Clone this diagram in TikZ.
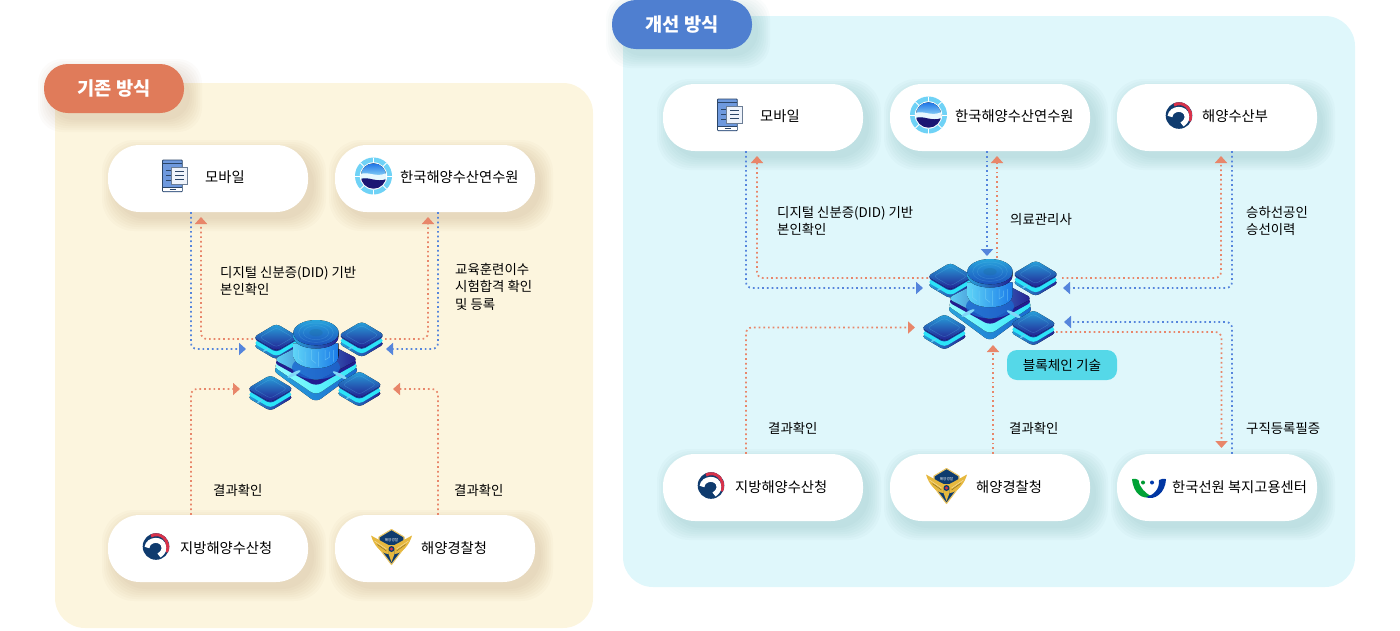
\documentclass[tikz,border=0pt]{standalone}
\usepackage{fontspec}
\setmainfont{Noto Sans CJK KR}
\usetikzlibrary{arrows.meta,calc}
\definecolor{panelL}{HTML}{FCF5DE}
\definecolor{panelR}{HTML}{DFF7FB}
\definecolor{tagL}{HTML}{E07B5A}
\definecolor{tagR}{HTML}{4F7FD0}
\definecolor{flowO}{HTML}{E8866A}
\definecolor{flowB}{HTML}{5585DC}
\definecolor{chipT}{HTML}{55D8E8}
\definecolor{navyA}{HTML}{221C90}
\definecolor{navyB}{HTML}{1B3A9A}
\definecolor{cyanA}{HTML}{2BE4F8}
\definecolor{blueA}{HTML}{28A4DC}
\definecolor{blueB}{HTML}{1A68D0}
\definecolor{glowL}{HTML}{5FD4F7}
\definecolor{glowM}{HTML}{12CDF9}
\definecolor{glowR}{HTML}{1A7AE8}
\definecolor{govN}{HTML}{0F3B6E}
\definecolor{govR}{HTML}{D8324A}
\definecolor{gold}{HTML}{E6B83E}
\definecolor{ringC}{HTML}{6FD2F6}
\definecolor{phoneB}{HTML}{6E99DE}
\definecolor{phoneD}{HTML}{2C4668}
\tikzset{
  pill/.style={fill=white,minimum width=200pt,minimum height=67pt,rounded corners=32pt,inner sep=0pt},
  tagbox/.style={minimum width=140pt,minimum height=49pt,rounded corners=24pt,inner sep=0pt,text=white,font=\fontsize{18.7}{20}\selectfont\bfseries},
  pilltext/.style={inner sep=0pt,anchor=west,yshift=-1pt,font=\fontsize{14.3}{16}\selectfont,text=black},
  note/.style={inner sep=0pt,anchor=west,align=left,yshift=-1.3pt,font=\fontsize{13.4}{17.5}\selectfont,text=black},
  flow/.style={line width=1.7pt,dash pattern=on 1.7pt off 3pt,rounded corners=6pt,-{Triangle[length=7pt,width=12pt]}},
  orangeflow/.style={flow,draw=flowO},
  blueflow/.style={flow,draw=flowB},
  hub/.style={minimum width=130pt,minimum height=100pt,inner sep=0pt},
}
% rounded diamond
\newcommand{\dia}[4]{({#1-#3/2},{#2-#4/2}) -- ({#1},{#2-#4}) -- ({#1+#3},{#2}) -- ({#1},{#2+#4}) -- ({#1-#3},{#2}) -- cycle}
\newcommand{\hubchip}[2]{%
  \fill[rounded corners=4pt,left color=blueA,right color=navyA] \dia{#1}{#2+26}{69}{41};
  \fill[rounded corners=4pt,cyanA] \dia{#1}{#2+17}{69}{41};
  \fill[rounded corners=4pt,navyB] \dia{#1}{#2+4}{69}{41};
  \fill[rounded corners=4pt,top color=blueA,bottom color=navyA] \dia{#1}{#2}{69}{41};
  \draw[rounded corners=3pt,cyan!60!white,opacity=.3,line width=.4pt] \dia{#1}{#2}{50}{29};
  \fill[white!40!cyan,opacity=.9,rotate around={30:({#1-32},{#2+38})}] ({#1-32},{#2+38}) ellipse[x radius=10,y radius=2.5];
}
\tikzset{
hubicon/.pic={
 \begin{scope}[x=.3333pt,y=-.3333pt,shift={(-270,-180)}]
  \hubchip{139}{112}
  \hubchip{395}{105}
  % base plates
  \fill[rounded corners=6pt,left color=blueA,right color=blueB] \dia{258}{210}{131}{97};
  \fill[rounded corners=6pt,left color=cyan!40!white,right color=cyanA] \dia{258}{198}{130}{88};
  \fill[rounded corners=6pt,navyA] \dia{258}{187}{129}{72};
  \fill[rounded corners=6pt,left color=glowL,right color=navyA] \dia{258}{178}{128}{66};
  \fill[blueB,opacity=.8] (258,202) ellipse[x radius=72,y radius=36];
  \fill[cyan!50!white,rotate around={28:(192,222)}] (192,222) ellipse[x radius=22,y radius=5];
  \fill[cyan!50!white,rotate around={-28:(330,226)}] (330,226) ellipse[x radius=24,y radius=5];
  % cylinder
  \fill[left color=glowL,middle color=glowM,right color=glowR]
     (190,130) -- (190,165) .. controls (190,218) and (326,218) .. (326,165) -- (326,130) -- cycle;
  \draw[white!50!cyan,opacity=.6,line width=.5pt]
     (205,150)--(205,175)--(218,185) (225,155)--(225,195) (245,150)--(245,180)--(258,190)
     (265,155)--(265,200) (285,150)--(285,180)--(298,172)--(298,155) (310,150)--(310,185);
  \fill[left color=blueA,right color=navyA]
     (190,98) -- (190,108) .. controls (190,158) and (326,158) .. (326,108) -- (326,98) -- cycle;
  \fill[top color=blueA,bottom color=blueB!70!navyA] (258,98) ellipse[x radius=68,y radius=38];
  \draw[cyan!50!white,opacity=.2,line width=.5pt] (258,98) ellipse[x radius=52,y radius=29]
     (258,98) ellipse[x radius=38,y radius=21];
  \fill[blueA!60!black,opacity=.2] (258,98) ellipse[x radius=20,y radius=11];
  \hubchip{121}{266}
  \hubchip{388}{254}
 \end{scope}
},
phoneicon/.pic={
  \draw[phoneD,fill=phoneB,line width=.8pt,rounded corners=.8pt] (-12.5,-16) rectangle (7.3,15.7);
  \fill[white] (-12,11) rectangle (6.8,15.2);
  \draw[phoneD,line width=.8pt] (-12.5,-13) -- (7.3,-13) (-12.5,11) -- (7.3,11) (-5.5,13.5) -- (0.5,13.5);
  \draw[phoneD,line width=.7pt] (-9,-6) -- (-3,-6) (-9,-1) -- (-3,-1) (-9,4) -- (-3,4);
  \draw[phoneD!70!white,fill=white!88!phoneB,line width=.9pt] (-3.3,-9) rectangle (12.3,8);
  \draw[phoneD,line width=.7pt] (0,-5) -- (9,-5) (0,-1) -- (9,-1) (0,3) -- (9,3);
},
ringlogo/.pic={
  \fill[ringC] (0,0) circle[radius=18.5];
  \foreach \a in {0,45,...,315}{\draw[white,line width=.9pt] (\a:13.5) -- (\a:18.5);}
  \fill[white] (0,0) circle[radius=13.7];
  \begin{scope}
    \clip (0,0) circle[radius=12.7];
    \fill[top color=blueA!70!blue,bottom color=ringC!70!white] (-13,-13) rectangle (13,2);
    \fill[white!85!ringC] (-13,-2) .. controls (-5,-5) and (3,2) .. (13,-3) -- (13,3) .. controls (3,7) and (-5,0) .. (-13,3) -- cycle;
    \fill[navyA!80!black] (-13,3) .. controls (-5,0) and (3,7) .. (13,3) -- (13,13) -- (-13,13) -- cycle;
  \end{scope}
},
govlogo/.pic={
  \fill[govN] (0,0) circle[radius=13.3];
  \begin{scope}
    \clip (0,0) circle[radius=13.3];
    \draw[white,line width=5pt] (-9,1) .. controls (-8,-8) and (7,-9) .. (8,1) .. controls (8.3,4) and (6,7) .. (3,9);
    \draw[govR,line width=3pt] (-5,-10.5) .. controls (4,-15) and (14,-8) .. (11.5,6);
  \end{scope}
  \fill[govN] (1,1.5) circle[radius=4.2];
},
guardlogo/.pic={
  \draw[gold!80!white,fill=govN,line width=1.1pt,line join=round] (0,-17.5) -- (12.5,-10) -- (12.5,1) -- (0,17.5) -- (-12.5,1) -- (-12.5,-10) -- cycle;
  \node[inner sep=0pt,text=white,font=\fontsize{3.6}{4}\selectfont] (guardname) at (0,-7) {해양경찰};
  \fill[gold] (-20.5,-11.5) .. controls (-14,-8) and (-8,-4.5) .. (-3,-2) -- (-3,7) .. controls (-10,7) and (-18,-2) .. cycle;
  \fill[gold] (20.5,-11.5) .. controls (14,-8) and (8,-4.5) .. (3,-2) -- (3,7) .. controls (10,7) and (18,-2) .. cycle;
  \fill[gold] (-3.5,-2) -- (3.5,-2) -- (3,7) -- (0,15) -- (-3,7) -- cycle;
  \draw[white!50!gold,line width=.5pt] (-17,-6) -- (-5,2) (17,-6) -- (5,2);
  \draw[gold!55!black,line width=.4pt] (-14,-2.5) -- (-5,4) (14,-2.5) -- (5,4);
  \fill[govN] (0,2) circle[radius=3];
  \fill[govR] (0,2) circle[radius=1.6];
},
welfarelogo/.pic={
  \fill[green!50!teal!85!black] (-16.5,-9) .. controls (-14,-9.5) and (-11,-9) .. (-10,-8) .. controls (-9,0) and (-3,5) .. (3,8.5) .. controls (-6,12) and (-15,6) .. cycle;
  \fill[blue!50!teal!85!black] (17.5,-9) .. controls (15,-9.5) and (12,-9) .. (10.5,-8) .. controls (11,1) and (6,7) .. (-3,9) .. controls (6,13) and (17,5) .. cycle;
  \fill[green!50!teal!80!black] (-5.5,-5.5) circle[radius=2];
  \fill[blue!50!teal!90!black] (3.5,-5.5) circle[radius=2];
}
}
\newcommand{\softshadow}[6]{% x1 y1 x2 y2 colour radius
  \foreach \e in {12,10,8,6,4,2,0}{
    \fill[#5,opacity=.018,rounded corners=#6]
      ({#1-\e+6},{#2-\e+7}) rectangle ({#3+\e+6},{#4+\e+7});
  }
}
\begin{document}
\begin{tikzpicture}[x=1pt,y=-1pt]
\useasboundingbox (0,0) rectangle (1400,630);
% panels
\fill[panelL,rounded corners=30pt] (55,83) rectangle (593,628);
\fill[panelR,rounded corners=30pt] (623,16) rectangle (1355,587);
% shadows
\softshadow{108}{145}{308}{212}{black!60!orange}{32pt}
\softshadow{335}{145}{535}{212}{black!60!orange}{32pt}
\softshadow{108}{515}{308}{582}{black!60!orange}{32pt}
\softshadow{335}{515}{535}{582}{black!60!orange}{32pt}
\softshadow{663}{84}{863}{151}{teal!70!black}{32pt}
\softshadow{890}{84}{1090}{151}{teal!70!black}{32pt}
\softshadow{1117}{84}{1317}{151}{teal!70!black}{32pt}
\softshadow{663}{454}{863}{521}{teal!70!black}{32pt}
\softshadow{890}{454}{1090}{521}{teal!70!black}{32pt}
\softshadow{1117}{454}{1317}{521}{teal!70!black}{32pt}
\softshadow{44}{64}{184}{113}{black!60!orange}{24pt}
\softshadow{612}{0}{752}{49}{teal!70!black}{24pt}
% tags
\node[tagbox,fill=tagL] (tagOld) at (114,88.5) {\raisebox{-1pt}{기존 방식}};
\node[tagbox,fill=tagR] (tagNew) at (682,24.5) {\raisebox{-1pt}{개선 방식}};
% pills
\node[pill] (mobL) at (208,178.5) {};
\node[pill] (acaL) at (435,178.5) {};
\node[pill] (locL) at (208,548.5) {};
\node[pill] (polL) at (435,548.5) {};
\node[pill] (mobR) at (763,117.5) {};
\node[pill] (acaR) at (990,117.5) {};
\node[pill] (minR) at (1217,117.5) {};
\node[pill] (locR) at (763,487.5) {};
\node[pill] (polR) at (990,487.5) {};
\node[pill] (welR) at (1217,487.5) {};
% hub anchors
\node[hub] (hubL) at (320,360) {};
\node[hub] (hubR) at (994,299) {};
\coordinate (inLtlB) at (246,349);
\coordinate (outLtlO) at (253,339);
\coordinate (inLtrB) at (386,349);
\coordinate (outLtrO) at (385,339);
\coordinate (inLblO) at (240,389);
\coordinate (inLbrO) at (393,389);
\coordinate (inRtlB) at (923,288);
\coordinate (outRtlO) at (928,278);
\coordinate (inRtmB) at (987,256);
\coordinate (outRtmO) at (997,258);
\coordinate (inRtrB) at (1063,288);
\coordinate (outRtrO) at (1062,278);
\coordinate (inRblO) at (915,327.5);
\coordinate (inRbmO) at (993,345);
\coordinate (inRbrB) at (1064,322);
\coordinate (outRbrO) at (1056,332);
\coordinate (tipMobL) at (201,217);
\coordinate (tipAcaL) at (428,217);
\coordinate (tipMobR) at (757,156);
\coordinate (tipAcaR) at (997,156);
\coordinate (tipMinR) at (1221,156);
\coordinate (tipWelR) at (1221.5,448);
% connectors left
\draw[blueflow] ($(mobL.south)+(-17,0)$) |- (inLtlB);
\draw[orangeflow] (outLtlO) -| (tipMobL);
\draw[blueflow] ($(acaL.south)+(3,0)$) |- (inLtrB);
\draw[orangeflow] (outLtrO) -| (tipAcaL);
\draw[orangeflow] ($(locL.north)+(-17,0)$) |- (inLblO);
\draw[orangeflow] ($(polL.north)+(3,0)$) |- (inLbrO);
% connectors right
\draw[blueflow] ($(mobR.south)+(-17,0)$) |- (inRtlB);
\draw[orangeflow] (outRtlO) -| (tipMobR);
\draw[blueflow] ($(acaR.south)+(-3,0)$) -- (inRtmB);
\draw[orangeflow] (outRtmO) -- (tipAcaR);
\draw[blueflow] ($(minR.south)+(15,0)$) |- (inRtrB);
\draw[orangeflow] (outRtrO) -| (tipMinR);
\draw[orangeflow] ($(locR.north)+(-17,0)$) |- (inRblO);
\draw[orangeflow] ($(polR.north)+(3,0)$) -- (inRbmO);
\draw[blueflow] ($(welR.north)+(15,0)$) |- (inRbrB);
\draw[orangeflow] (outRbrO) -| (tipWelR);
% hub icons
\pic at (320,360) {hubicon};
\pic at (994,299) {hubicon};
% tech tag
\node[fill=chipT,minimum width=110pt,minimum height=30pt,rounded corners=10pt,inner sep=0pt,font=\fontsize{13.6}{15}\selectfont] (techTag) at (1062,365) {\raisebox{-1pt}{블록체인 기술}};
% icons
\pic at (175,176) {phoneicon};
\pic at (730,115) {phoneicon};
\pic at (373.5,176) {ringlogo};
\pic at (928.5,115) {ringlogo};
\pic at (1179,115.5) {govlogo};
\pic at (156,546.5) {govlogo};
\pic at (711,485.5) {govlogo};
\pic at (391.5,547) {guardlogo};
\pic at (946.5,486) {guardlogo};
\pic at (1148.5,488) {welfarelogo};
% pill texts
\node[pilltext] (t1) at (205,176) {모바일};
\node[pilltext] (t2) at (400,176) {한국해양수산연수원};
\node[pilltext] (t3) at (180,547) {지방해양수산청};
\node[pilltext] (t4) at (421,547) {해양경찰청};
\node[pilltext] (t5) at (760,115) {모바일};
\node[pilltext] (t6) at (955,115) {한국해양수산연수원};
\node[pilltext] (t7) at (1202,115) {해양수산부};
\node[pilltext] (t8) at (735,486) {지방해양수산청};
\node[pilltext] (t9) at (976,486) {해양경찰청};
\node[pilltext] (t10) at (1172,486) {한국선원 복지고용센터};
% notes
\node[note] (n1) at (220,279.5) {디지털 신분증(DID) 기반\\본인확인};
\node[note] (n2) at (455,285.5) {교육훈련이수\\시험합격 확인\\및 등록};
\node[note] (n3) at (213,489) {결과확인};
\node[note] (n4) at (454,489) {결과확인};
\node[note] (n5) at (777,219.5) {디지털 신분증(DID) 기반\\본인확인};
\node[note] (n6) at (1010,218) {의료관리사};
\node[note] (n7) at (1246,219.5) {승하선공인\\승선이력};
\node[note] (n8) at (768,427) {결과확인};
\node[note] (n9) at (1009,427) {결과확인};
\node[note] (n10) at (1246,427) {구직등록필증};
\end{tikzpicture}
\end{document}
